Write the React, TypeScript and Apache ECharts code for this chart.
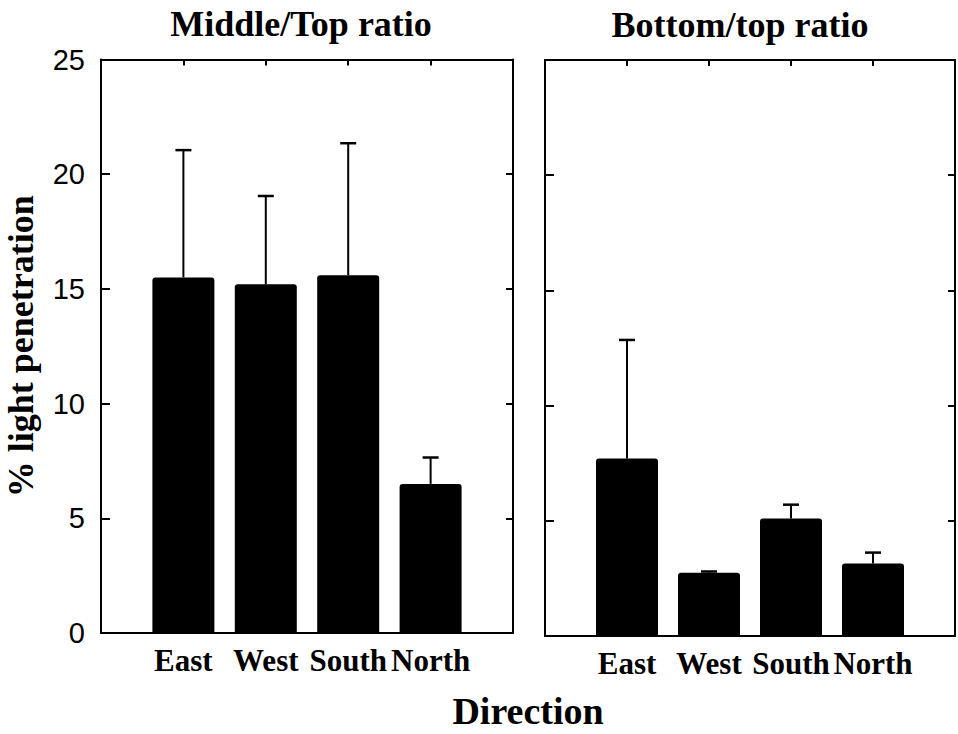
import React, { useEffect, useRef } from "react";
import * as echarts from "echarts";

const directions = ["East", "West", "South", "North"];
const middleTopMeans = [15.5, 15.2, 15.6, 6.5];
const middleTopUpper = [21.05, 19.05, 21.35, 7.65];
const bottomTopMeans = [7.7, 2.75, 5.1, 3.15];
const bottomTopUpper = [12.85, 2.8, 5.7, 3.62];
const panelTitles = ["Middle/Top ratio", "Bottom/top ratio"];
const xAxisTitle = "Direction";
const yAxisTitle = "% light penetration";
const yMin = 0;
const yMax = 25;
const yStep = 5;

const SERIF = '"Liberation Serif", "Times New Roman", serif';
const SANS = '"Liberation Sans", Arial, sans-serif';

export default function App() {
  const ref = useRef<HTMLDivElement>(null);
  useEffect(() => {
    if (!ref.current) return;
    const chart = echarts.init(ref.current, null, { renderer: "svg" });
    const grids = [
      { left: 101, top: 59.5, width: 412, height: 573.5 },
      { left: 545, top: 60, width: 412, height: 576 },
    ];
    const panels = [
      { means: middleTopMeans, upper: middleTopUpper },
      { means: bottomTopMeans, upper: bottomTopUpper },
    ];
    const line = { lineStyle: { color: "#000", width: 2 } };
    const xAxis: any[] = [];
    const yAxis: any[] = [];
    const series: any[] = [];
    panels.forEach((p, i) => {
      const baseX = {
        type: "value",
        gridIndex: i,
        min: 0,
        max: directions.length + 1,
        interval: 1,
        splitLine: { show: false },
        axisLine: { show: true, onZero: false, ...line },
      };
      xAxis.push({
        ...baseX,
        position: "bottom",
        axisTick: { show: false },
        axisLabel: {
          formatter: (v: number) => directions[v - 1] ?? "",
          fontFamily: SERIF,
          fontWeight: "bold",
          fontSize: 31,
          color: "#000",
          margin: 12,
        },
      });
      xAxis.push({
        ...baseX,
        position: "top",
        axisTick: { show: true, inside: true, length: 6, ...line },
        axisLabel: { show: false },
      });
      const baseY = {
        type: "value",
        gridIndex: i,
        min: yMin,
        max: yMax,
        interval: yStep,
        splitLine: { show: false },
        axisLine: { show: true, onZero: false, ...line },
      };
      yAxis.push({
        ...baseY,
        position: "left",
        axisTick: { show: true, inside: true, length: 9, ...line },
        axisLabel:
          i === 0
            ? { fontFamily: SANS, fontSize: 29, color: "#000", margin: 16 }
            : { show: false },
        ...(i === 0
          ? {
              name: yAxisTitle,
              nameLocation: "middle",
              nameRotate: 90,
              nameGap: 62,
              nameTextStyle: {
                fontFamily: SERIF,
                fontWeight: "bold",
                fontSize: 36,
                color: "#000",
              },
            }
          : {}),
      });
      yAxis.push({
        ...baseY,
        position: "right",
        axisTick: { show: true, inside: true, length: 7, ...line },
        axisLabel: { show: false },
      });
      series.push({
        type: "bar",
        xAxisIndex: 2 * i,
        yAxisIndex: 2 * i,
        barWidth: 62,
        data: p.means.map((m, k) => [k + 1, m]),
        itemStyle: { color: "#000", borderRadius: [3, 3, 0, 0] },
        z: 2,
      });
      series.push({
        type: "custom",
        xAxisIndex: 2 * i,
        yAxisIndex: 2 * i,
        encode: { x: 0, y: [1, 2] },
        data: p.means.map((m, k) => [k + 1, m, p.upper[k]]),
        renderItem: (params: any, api: any) => {
          const base = api.coord([api.value(0), api.value(1)]);
          const top = api.coord([api.value(0), api.value(2)]);
          return {
            type: "group",
            children: [
              {
                type: "line",
                shape: { x1: base[0], y1: base[1], x2: top[0], y2: top[1] },
                style: { stroke: "#000", lineWidth: 2 },
              },
              {
                type: "line",
                shape: { x1: top[0] - 8, y1: top[1], x2: top[0] + 8, y2: top[1] },
                style: { stroke: "#000", lineWidth: 2.5 },
              },
            ],
          };
        },
        z: 3,
      });
    });

    const textEl = (text: string, x: number, y: number, size: number) => ({
      type: "text",
      x,
      y,
      style: {
        text,
        fill: "#000",
        font: `bold ${size}px ${SERIF}`,
        fontFamily: SERIF,
        fontWeight: "bold",
        fontSize: size,
        align: "center",
        verticalAlign: "middle",
        textAlign: "center",
        textVerticalAlign: "middle",
      },
    });

    chart.setOption({
      animation: false,
      backgroundColor: "#fff",
      grid: grids,
      xAxis,
      yAxis,
      series,
      graphic: [
        textEl(panelTitles[0], 301, 24, 36),
        textEl(panelTitles[1], 740, 25, 36),
        textEl(xAxisTitle, 528, 711, 38),
      ],
    });
    return () => chart.dispose();
  }, []);
  return (
    <div
      ref={ref}
      style={{ position: "fixed", left: 0, top: 0, width: 958, height: 734, background: "#fff" }}
    />
  );
}
